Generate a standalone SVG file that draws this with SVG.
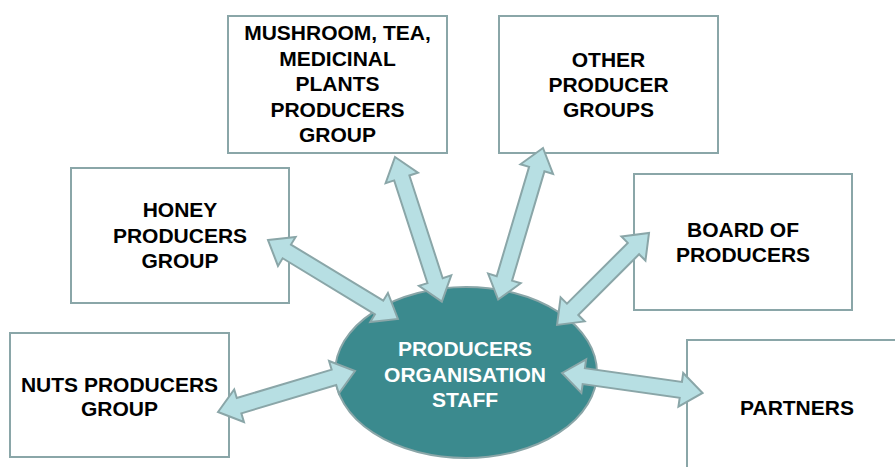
<svg xmlns="http://www.w3.org/2000/svg" width="895" height="467" viewBox="0 0 895 467">
<style>
.box{fill:#ffffff;stroke:#8aa6a8;stroke-width:2}
.t{font-family:"Liberation Sans",Arial,sans-serif;font-weight:bold;font-size:21px;fill:#000;text-anchor:middle}
.w{fill:#ffffff}
.arr{fill:#b7dfe3;stroke:#8aa6a8;stroke-width:2;stroke-linejoin:miter}
</style>
<rect width="895" height="467" fill="#ffffff"/>
<g id="nuts"><rect class="box" x="10" y="333" width="219" height="124"/>
<text class="t" x="119.5" y="392">NUTS PRODUCERS</text><text class="t" x="119.5" y="416">GROUP</text></g>
<g id="honey"><rect class="box" x="71" y="168" width="218" height="135"/>
<text class="t" x="180" y="217">HONEY</text><text class="t" x="180" y="243">PRODUCERS</text><text class="t" x="180" y="268">GROUP</text></g>
<g id="mushroom"><rect class="box" x="228" y="16" width="219" height="137"/>
<text class="t" x="337.5" y="40">MUSHROOM, TEA,</text><text class="t" x="337.5" y="66">MEDICINAL</text><text class="t" x="337.5" y="91">PLANTS</text><text class="t" x="337.5" y="117">PRODUCERS</text><text class="t" x="337.5" y="142">GROUP</text></g>
<g id="other"><rect class="box" x="499" y="16" width="219" height="137"/>
<text class="t" x="608.5" y="67">OTHER</text><text class="t" x="608.5" y="92">PRODUCER</text><text class="t" x="608.5" y="117">GROUPS</text></g>
<g id="board"><rect class="box" x="634" y="174" width="218" height="136"/>
<text class="t" x="743" y="237">BOARD OF</text><text class="t" x="743" y="262">PRODUCERS</text></g>
<g id="partners"><rect class="box" x="687" y="340" width="300" height="200"/>
<text class="t" x="797" y="415">PARTNERS</text></g>
<g id="staff"><ellipse cx="466" cy="372.5" rx="131" ry="85.5" fill="#3b8a8e" stroke="#8aa6a8" stroke-width="2"/>
<text class="t w" x="465" y="356">PRODUCERS</text><text class="t w" x="465" y="382">ORGANISATION</text><text class="t w" x="465" y="407">STAFF</text></g>
<g id="connectors">
<path class="arr" transform="translate(218,412) rotate(-16.66)" d="M0,0 L22,-17 L22,-8 L121,-8 L121,-17 L143,0 L121,17 L121,8 L22,8 L22,17 Z"/>
<path class="arr" transform="translate(268,240) rotate(31.29)" d="M0,0 L22,-17 L22,-8 L130,-8 L130,-17 L152,0 L130,17 L130,8 L22,8 L22,17 Z"/>
<path class="arr" transform="translate(395,157) rotate(72.04)" d="M0,0 L22,-17 L22,-8 L130,-8 L130,-17 L152,0 L130,17 L130,8 L22,8 L22,17 Z"/>
<path class="arr" transform="translate(543,148) rotate(106.49)" d="M0,0 L22,-17 L22,-8 L136,-8 L136,-17 L158,0 L136,17 L136,8 L22,8 L22,17 Z"/>
<path class="arr" transform="translate(649,233) rotate(135)" d="M0,0 L22,-17 L22,-8 L108,-8 L108,-17 L130,0 L108,17 L108,8 L22,8 L22,17 Z"/>
<path class="arr" transform="translate(562,373) rotate(8.07)" d="M0,0 L22,-17 L22,-8 L120,-8 L120,-17 L142,0 L120,17 L120,8 L22,8 L22,17 Z"/>
</g>
</svg>
